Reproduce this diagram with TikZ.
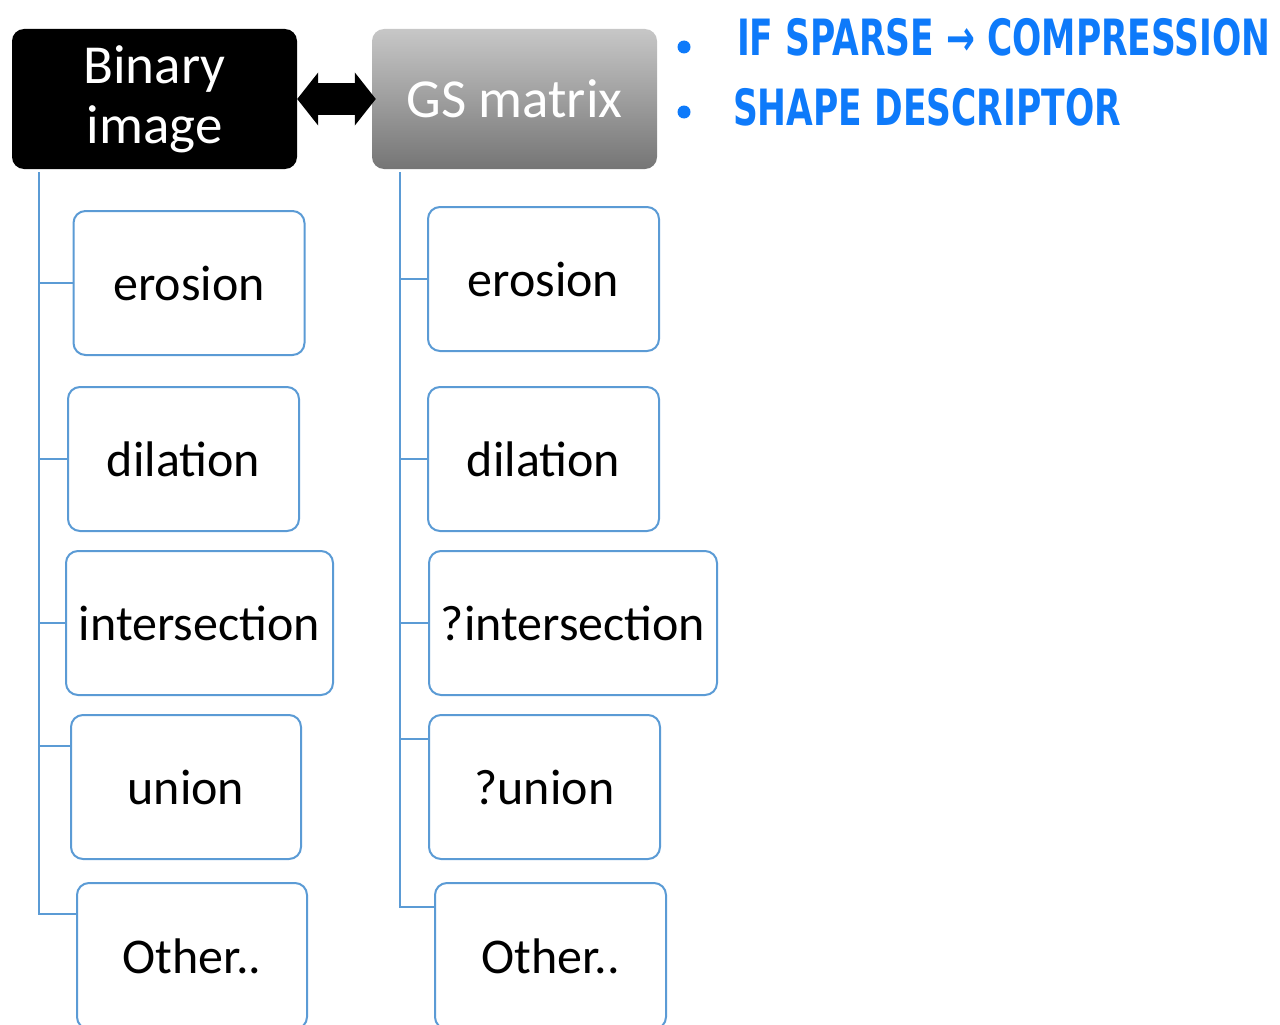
\documentclass[tikz,border=0pt]{standalone}
\usepackage{fontspec}
\setmainfont{Carlito}
\newfontfamily\notefont{DejaVu Sans}
\usetikzlibrary{arrows.meta}
\definecolor{boxblue}{RGB}{91,155,213}
\definecolor{noteblue}{RGB}{14,122,250}
\tikzset{
  box/.style={draw=boxblue, line width=2pt, rounded corners=12pt, fill=white,
    minimum width=231pt, minimum height=144pt, inner sep=0pt,
    font=\fontsize{50}{54}\selectfont},
  head/.style={rounded corners=12pt, minimum width=285pt, minimum height=140pt,
    inner sep=0pt, text=white, align=center, font=\fontsize{55}{60}\selectfont},
  tree/.style={draw=boxblue, line width=2.2pt},
  note/.style={text=noteblue, anchor=west, inner sep=0pt,
    font=\notefont\bfseries\fontsize{50}{54}\selectfont}
}

\begin{document}
\begin{tikzpicture}[x=1pt, y=-1pt]
            \useasboundingbox (0,0) rectangle (1280,1025);
            \node[head, fill=black] (bin) at (154.5,99) {Binary\\image};
            \node[head, top color=black!22, bottom color=black!54] (gs) at (514.5,99) {GS matrix};
            \draw[line width=32pt, {Triangle[length=21pt,width=52pt]}-{Triangle[length=21pt,width=52pt]}] (bin.east) -- ([xshift=4pt]gs.west);

            \node[box] (lero) at (189,283) {erosion};
            \node[box] (ldil) at (183.5,459) {dilation};
            \node[box, minimum width=267pt] (lint) at (199.5,623) {intersection};
            \node[box, minimum width=230pt] (luni) at (186,787) {union};
            \node[box, minimum width=230pt, minimum height=146pt] (loth) at (192,956) {Other..};

            \node[box] (rero) at (543.5,279) {erosion};
            \node[box] (rdil) at (543.5,459) {dilation};
            \node[box, minimum width=288pt] (rint) at (573,623) {?intersection};
            \node[box] (runi) at (544.5,787) {?union};
            \node[box, minimum height=146pt] (roth) at (550.5,956) {Other..};

            \coordinate (lroot) at (39,172);
            \coordinate (rroot) at (400,172);
            \draw[tree] (lroot) |- (lero.west);
            \draw[tree] (lroot) |- (ldil.west);
            \draw[tree] (lroot) |- (lint.west);
            \draw[tree] (lroot) |- ([yshift=41pt]luni.west);
            \draw[tree] (lroot) |- ([yshift=42pt]loth.west);
            \draw[tree] (rroot) |- (rero.west);
            \draw[tree] (rroot) |- (rdil.west);
            \draw[tree] (rroot) |- (rint.west);
            \draw[tree] (rroot) |- ([yshift=48pt]runi.west);
            \draw[tree] (rroot) |- ([yshift=49pt]roth.west);

            \node[circle, fill=noteblue, minimum size=13pt, inner sep=0pt] (dot1) at (684,47) {};
            \node[circle, fill=noteblue, minimum size=13pt, inner sep=0pt] (dot2) at (684,112) {};
            \node[note, xscale=0.69] (sparse) at (737,37) {IF SPARSE → COMPRESSION};
            \node[note, xscale=0.69] (shape) at (733,107) {SHAPE DESCRIPTOR};
        \end{tikzpicture}
\end{document}
